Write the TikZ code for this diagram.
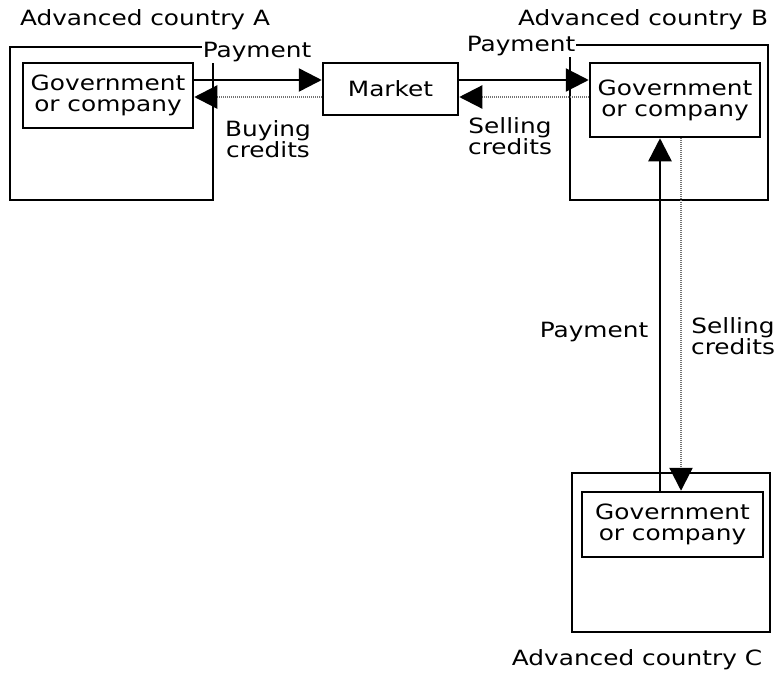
\documentclass[tikz,border=0pt]{standalone}
\usepackage{fontspec}
\setmainfont{DejaVu Sans}[FakeStretch=1.18]
\usetikzlibrary{arrows.meta}
\begin{document}
\begin{tikzpicture}[x=1pt,y=-1pt,
  box/.style={draw,line width=2.5pt,inner sep=0pt,align=center},
  lbl/.style={inner sep=1pt,align=center,fill=white},
  txt/.style={inner sep=0pt,align=center},
  tip/.style={-{Triangle[length=23pt,width=23pt,color=black]}},
  pay/.style={tip,line width=2.5pt},
  cred/.style={tip,line width=2.2pt,dash pattern=on 1pt off 1pt,draw=black!55},
  every node/.style={font=\fontsize{21}{21}\selectfont}]
\useasboundingbox (0,0) rectangle (778,673);
% outer boxes
\node[box,minimum width=203pt,minimum height=153pt] (oa) at (111.5,123.5) {};
\node[box,minimum width=198pt,minimum height=155pt] (ob) at (669,122.5) {};
\node[box,minimum width=198pt,minimum height=159pt] (oc) at (671,552.5) {};
% inner boxes
\node[box,minimum width=170pt,minimum height=65pt] (ia) at (108,95.5) {Government\\or company};
\node[box,minimum width=135pt,minimum height=52pt] (mk) at (390.5,89) {Market};
\node[box,minimum width=170pt,minimum height=74pt] (ib) at (675,100) {Government\\or company};
\node[box,minimum width=181pt,minimum height=65pt] (ic) at (672.5,524.5) {Government\\or company};
% titles
\node[txt] (ta) at (145,20) {Advanced country A};
\node[txt] (tb) at (643,20) {Advanced country B};
\node[txt] (tc) at (637,660) {Advanced country C};
% flow coordinates
\coordinate (py) at (0,80);
\coordinate (cy) at (0,97);
\coordinate (vx) at (660,0);
\coordinate (wx) at (681,0);
% horizontal flows
\draw[pay] (ia.east |- py) -- (mk.west |- py);
\draw[cred] (mk.west |- cy) -- (ia.east |- cy);
\draw[pay] (mk.east |- py) -- (ib.west |- py);
\draw[cred] (ib.west |- cy) -- (mk.east |- cy);
% vertical flows
\draw[pay] (vx |- ic.north) -- (vx |- ib.south);
\draw[cred] (wx |- ib.south) -- (wx |- ic.north);
% labels
\node[lbl] (pa) at (257,52) {Payment};
\node[lbl] (pb) at (521,46) {Payment};
\node[txt] (ba) at (268,139) {Buying\\credits};
\node[txt] (sb) at (510,136) {Selling\\credits};
\node[txt] (pv) at (594,332) {Payment};
\node[txt] (sv) at (733,336) {Selling\\credits};
\end{tikzpicture}
\end{document}
